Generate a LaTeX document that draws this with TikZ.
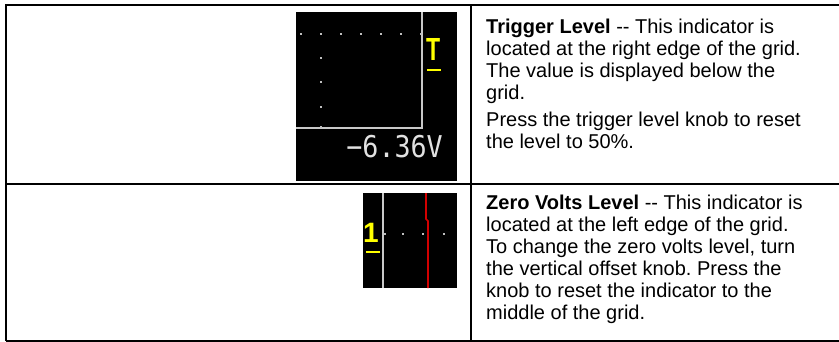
\documentclass[tikz,border=0pt]{standalone}
\usepackage{fontspec}
\setmainfont{Liberation Sans}
\newfontfamily\scrmono{DejaVu Sans Mono}
\definecolor{scrgray}{RGB}{200,200,200}
\definecolor{scrtext}{RGB}{225,225,225}
\definecolor{scryellow}{RGB}{255,255,0}
\definecolor{scrred}{RGB}{210,0,0}
\definecolor{dotgray}{RGB}{190,190,190}
\frenchspacing
\begin{document}
\begin{tikzpicture}[x=1pt,y=-1pt,
  rule/.style={line width=2pt, draw=black},
  screen/.style={fill=black},
  scrline/.style={draw=scrgray, line width=1.4pt},
  redline/.style={draw=scrred, line width=1.6pt},
  yel/.style={draw=scryellow, line width=2pt},
  desc/.style={anchor=north west, inner sep=0pt, align=left,
    font=\fontsize{20}{22}\selectfont},
  glyph/.style={anchor=north west, inner sep=0pt, text=scryellow}
]
\useasboundingbox (0,0) rectangle (839,341);
\fill[white] (0,0) rectangle (839,341);

% table rules
\draw[rule] (6,5) -- (850,5);
\draw[rule] (6,4) -- (6,341);
\draw[rule] (471,5) -- (471,341);
\draw[rule] (6,184) -- (850,184);
\draw[line width=2pt] (6,340.8) -- (850,340.8);

% screenshot 1 : trigger level
\fill[screen] (296,12) rectangle (457,181);
\draw[scrline] (422,12) -- (422,128) -- (296,128);
\foreach \x in {301,321,341,361,381,401,421}
  \fill[dotgray] (\x-1,33) rectangle (\x+1,35);
\foreach \y in {58,82,107,127}
  \fill[dotgray] (320,\y-1) rectangle (322,\y+1);
\node[glyph, font=\fontsize{32}{32}\selectfont\bfseries] (trigT) at (426,38) {\scalebox{0.72}[1]{T}};
\draw[yel] (427,70) -- (441,70);
\node[anchor=base east, inner sep=0pt, text=scrtext, font=\fontsize{30}{30}\selectfont\scrmono] (volt) at (443,157) {\scalebox{0.89}[1]{−6.36V}};

% screenshot 2 : zero volts level
\fill[screen] (363,193) rectangle (457,288);
\draw[scrline] (383,193) -- (383,288);
\draw[redline] (426,193) -- (426,219) -- (428,221) -- (428,288);
\foreach \x in {385,403,423,444}
  \fill[dotgray] (\x-1,233) rectangle (\x+1,235);
\node[glyph, font=\fontsize{28}{28}\selectfont\bfseries] (oneg) at (363,223) {1};
\draw[yel] (366,252) -- (380,252);

% descriptions
\node[desc] (trigtext) at (486,19) {\textbf{Trigger Level} -{}- This indicator is\\
located at the right edge of the grid.\\
The value is displayed below the\\
grid.\\[5pt]
Press the trigger level knob to reset\\
the level to 50\%.};
\node[desc] (zerotext) at (486,195) {\textbf{Zero Volts Level} -{}- This indicator is\\
located at the left edge of the grid.\\
To change the zero volts level, turn\\
the vertical offset knob. Press the\\
knob to reset the indicator to the\\
middle of the grid.};
\end{tikzpicture}
\end{document}
